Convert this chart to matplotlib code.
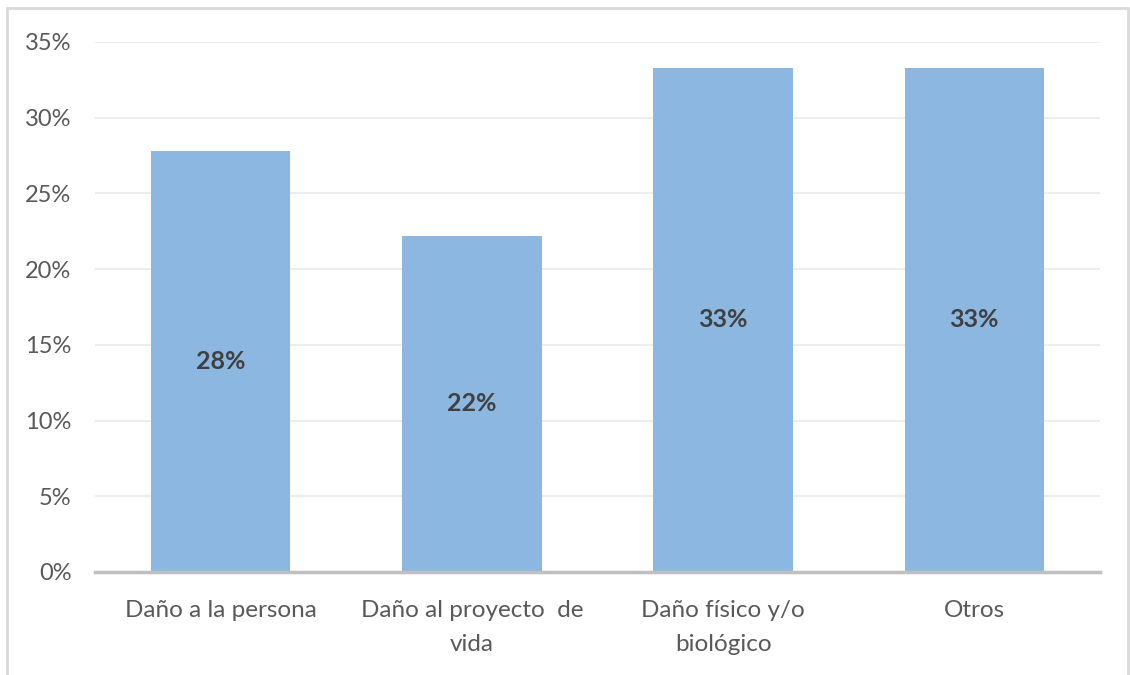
import matplotlib
matplotlib.use("Agg")
import matplotlib.pyplot as plt
from matplotlib.patches import Rectangle

# === DATOS ===
categorias = ["Daño a la persona", "Daño al proyecto  de\nvida",
              "Daño físico y/o\nbiológico", "Otros"]
valores = [27.8, 22.2, 33.3, 33.3]
etiquetas = ["28%", "22%", "33%", "33%"]
ticks_y = [0, 5, 10, 15, 20, 25, 30, 35]

plt.rcParams['font.family'] = ['Lato', 'DejaVu Sans']

fig = plt.figure(figsize=(11.3, 6.75), dpi=100)
ax = fig.add_axes([95/1130, 1 - 572/675, 1005/1130, 530/675])

# marco exterior del grafico
fig.patches.append(Rectangle((7/1130, -0.01), 1121/1130, 1 - 8/675 + 0.01,
                             transform=fig.transFigure, fill=False,
                             edgecolor='#D9D9D9', linewidth=2))

x = range(len(categorias))
ax.bar(x, valores, width=0.555, color='#8CB7E0', zorder=2)

for i, (v, t) in enumerate(zip(valores, etiquetas)):
    ax.text(i, v / 2, t, ha='center', va='center', fontsize=18,
            fontweight='bold', color='#404040', zorder=3)

ax.set_xlim(-0.5, 3.5)
ax.set_ylim(0, 35)
ax.set_yticks(ticks_y)
ax.set_yticklabels([f"{t}%" for t in ticks_y])
ax.set_xticks(list(x))
ax.set_xticklabels(categorias, linespacing=1.8, va='top')

ax.grid(axis='y', color='#EDEDED', linewidth=1.5, zorder=0)
for s in ['top', 'right', 'left']:
    ax.spines[s].set_visible(False)
ax.spines['bottom'].set_color('#BFBFBF')
ax.spines['bottom'].set_linewidth(2.5)
ax.spines['bottom'].set_zorder(4)

ax.tick_params(axis='y', length=0, pad=17, labelsize=17, labelcolor='#595959')
ax.tick_params(axis='x', length=0, pad=20, labelsize=17.5, labelcolor='#595959')

plt.savefig("out.png", dpi=100, facecolor='white')
